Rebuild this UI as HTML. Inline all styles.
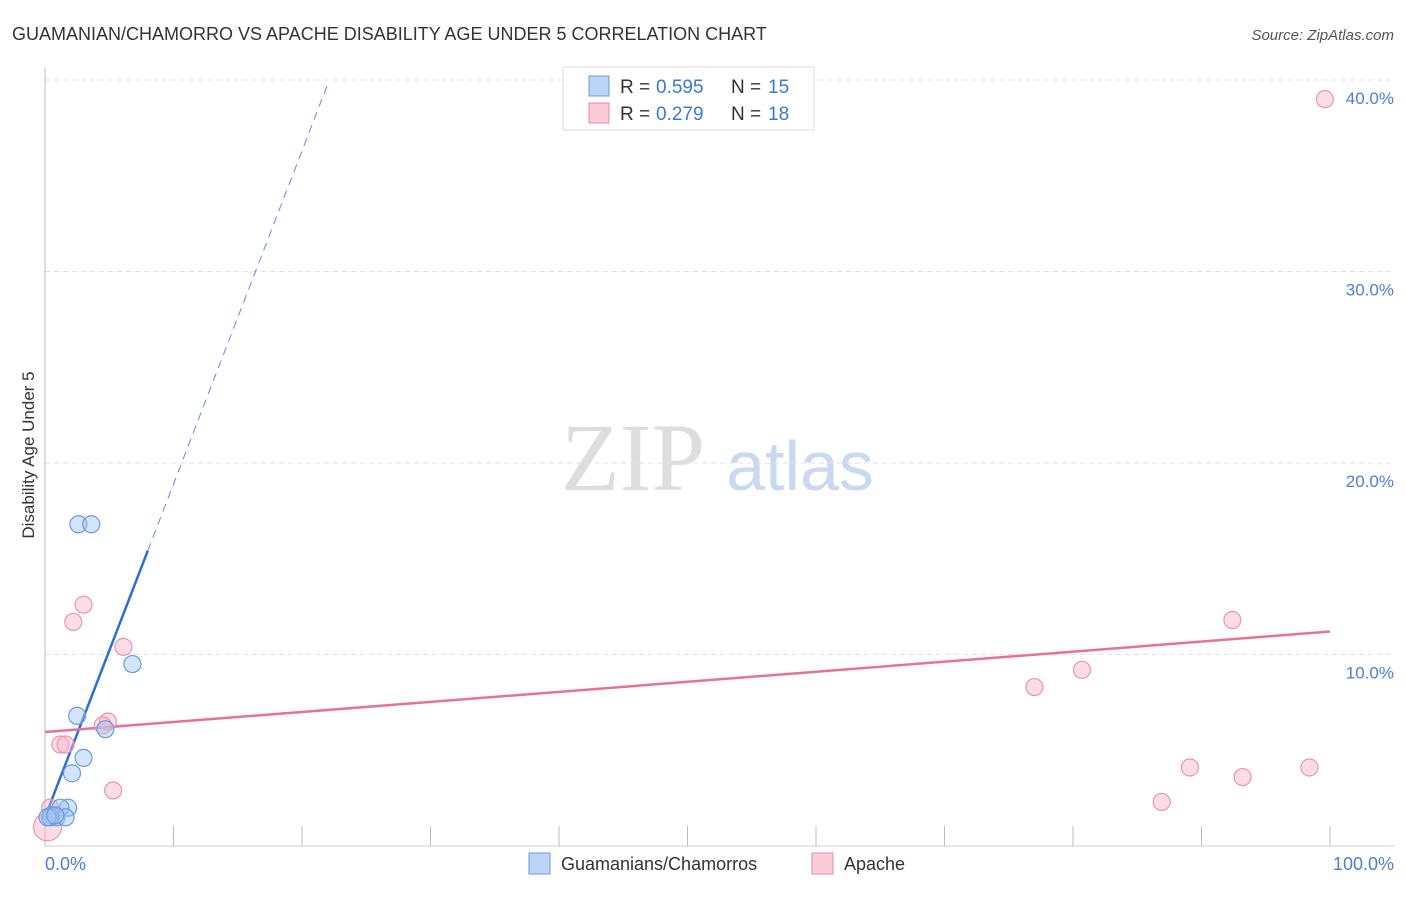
<!DOCTYPE html>
<html><head><meta charset="utf-8"><style>
body{margin:0;background:#fff;font-family:"Liberation Sans",sans-serif;}
</style></head><body>
<svg width="1406" height="892" xmlns="http://www.w3.org/2000/svg" font-family="Liberation Sans, sans-serif">
<text x="12" y="40" font-size="18" fill="#333">GUAMANIAN/CHAMORRO VS APACHE DISABILITY AGE UNDER 5 CORRELATION CHART</text>
<text x="1394" y="40" font-size="15" fill="#555" text-anchor="end" font-style="italic">Source: ZipAtlas.com</text>
<text x="633" y="490" font-size="96" fill="#ddd" font-family="Liberation Serif, serif" text-anchor="middle">ZIP</text>
<text x="800" y="490" font-size="70" fill="#c9d9f0" text-anchor="middle">atlas</text>
<g id="grid"></g>
<line x1="45" y1="68" x2="45" y2="846" stroke="#bbb"/>
<line x1="45" y1="846" x2="1394" y2="846" stroke="#ccc"/>
<text x="34" y="455" font-size="17" fill="#333" transform="rotate(-90 34 455)" text-anchor="middle">Disability Age Under 5</text>
<text x="45" y="870" font-size="18" fill="#4a7fd4">0.0%</text>
<text x="1394" y="870" font-size="18" fill="#4a7fd4" text-anchor="end">100.0%</text>
<g id="lines"></g>
<g id="points"></g>
<g>
<rect x="563" y="67" width="251" height="63" fill="#fff" stroke="#ddd"/>
<rect x="589" y="76" width="20" height="20" fill="#bcd4f6" stroke="#6a9be0"/>
<rect x="589" y="103" width="20" height="20" fill="#fbcbd8" stroke="#e88aa6"/>
<text x="620" y="93" font-size="19" fill="#333">R =</text>
<text x="656" y="93" font-size="19" fill="#3a78d8">0.595</text>
<text x="731" y="93" font-size="19" fill="#333">N =</text>
<text x="768" y="93" font-size="19" fill="#3a78d8">15</text>
<text x="620" y="120" font-size="19" fill="#333">R =</text>
<text x="656" y="120" font-size="19" fill="#3a78d8">0.279</text>
<text x="731" y="120" font-size="19" fill="#333">N =</text>
<text x="768" y="120" font-size="19" fill="#3a78d8">18</text>
</g>
<g>
<rect x="529" y="853" width="21" height="21" fill="#bcd4f6" stroke="#6a9be0"/>
<text x="561" y="870" font-size="18" fill="#333">Guamanians/Chamorros</text>
<rect x="812" y="853" width="21" height="21" fill="#fbcbd8" stroke="#e88aa6"/>
<text x="844" y="870" font-size="18" fill="#333">Apache</text>
</g>
</svg>
<script>
const yTicks=[10,20,30,40];
const yTickLabels=["10.0%","20.0%","30.0%","40.0%"];
const xTicks=[10,20,30,40,50,60,70,80,90,100];
const blueX=[2.6,3.6,6.8,2.5,4.7,3.0,2.1,1.8,1.2,0.5,0.9,1.6,0.4,0.2,0.8];
const blueY=[16.8,16.8,9.5,6.8,6.1,4.6,3.8,2.0,2.0,1.6,1.5,1.5,1.5,1.5,1.6];
const pinkX=[99.6,92.4,80.7,77.0,89.1,93.2,98.4,86.9,3.0,2.2,6.1,4.9,4.5,1.2,1.6,5.3,0.4,0.2];
const pinkY=[39.0,11.8,9.2,8.3,4.1,3.6,4.1,2.3,12.6,11.7,10.4,6.5,6.3,5.3,5.3,2.9,2.0,1.0];
const blueTrend=[1.5,1.74];
const pinkTrend=[5.95,0.0525];
const NS="http://www.w3.org/2000/svg";
const sx=v=>45+v*12.85, sy=v=>846-v*19.15;
function mk(t,a,p){const e=document.createElementNS(NS,t);for(const k in a)e.setAttribute(k,a[k]);document.getElementById(p).appendChild(e);return e;}
yTicks.forEach((t,i)=>{
 const l=mk('line',{x1:45,x2:1394,y1:sy(t),y2:sy(t),stroke:'#e2e2e2','stroke-dasharray':'5,4'},'grid');
 
 
 const tx=mk('text',{x:1394,y:sy(t)+24,'font-size':17,fill:'#4a7fd4','text-anchor':'end'},'grid');
 tx.textContent=yTickLabels[i];
 
 
});
xTicks.forEach(t=>{
 const l=mk('line',{x1:sx(t),x2:sx(t),y1:826,y2:846,stroke:'#bbb'},'grid');
 
 
});
let l=mk('line',{x1:sx(0),y1:sy(blueTrend[0]),x2:sx(8),y2:sy(blueTrend[0]+8*blueTrend[1]),stroke:'#2a6fd6','stroke-width':2.5},'lines');


l=mk('line',{x1:sx(8),y1:sy(blueTrend[0]+8*blueTrend[1]),x2:sx(22),y2:sy(blueTrend[0]+22*blueTrend[1]),stroke:'#5a8fe0','stroke-width':1,'stroke-dasharray':'8,6'},'lines');


l=mk('line',{x1:sx(0),y1:sy(pinkTrend[0]),x2:sx(100),y2:sy(pinkTrend[0]+100*pinkTrend[1]),stroke:'#e8709a','stroke-width':2.5},'lines');


pinkX.forEach((x,i)=>{
 const c=mk('circle',{cx:sx(x),cy:sy(pinkY[i]),r:i==17?14:8.5,fill:'rgba(248,180,200,0.45)',stroke:'#e995b0','stroke-width':1.2},'points');
 
 
});
blueX.forEach((x,i)=>{
 const c=mk('circle',{cx:sx(x),cy:sy(blueY[i]),r:8.5,fill:'rgba(160,195,245,0.45)',stroke:'#6a9be0','stroke-width':1.2},'points');
 
 
});
</script>
</body></html>
